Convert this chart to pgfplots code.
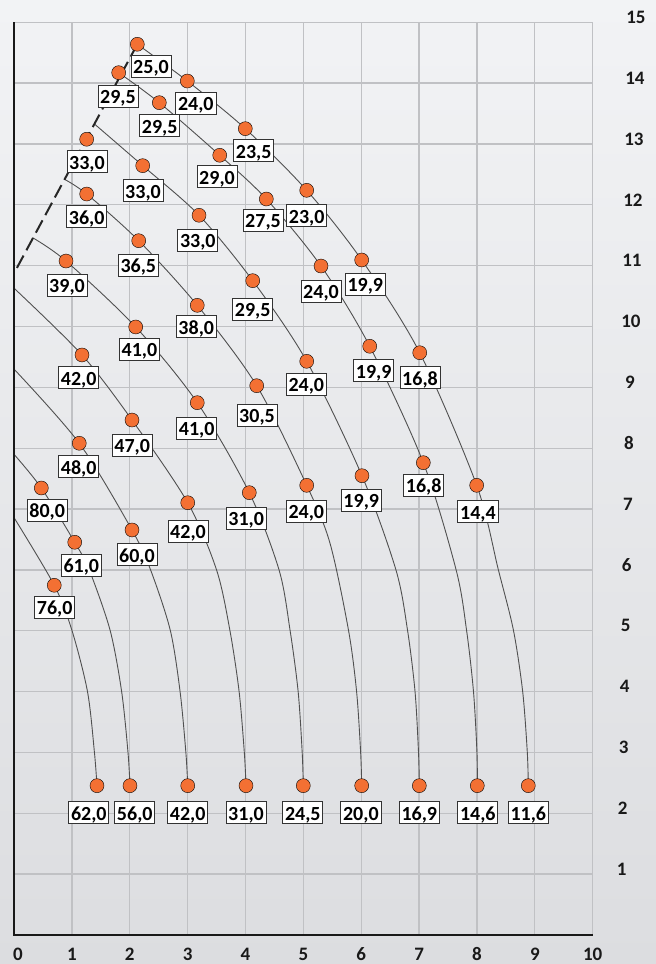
\documentclass[border=0pt]{standalone}
\usepackage{pgfplots}
\pgfplotsset{compat=1.18}
\usepackage{pgfplotstable}
\usepackage{fontspec}
\setmainfont{Carlito}
\definecolor{bgtop}{RGB}{242,243,245}
\definecolor{bgbot}{RGB}{220,221,224}
\definecolor{gridc}{RGB}{192,193,196}
\definecolor{dotc}{RGB}{243,112,51}
\definecolor{curvec}{RGB}{80,80,80}

\pgfplotstableread{
x y lab dx dy
2.131 14.638 25,0 13.7 -21.7
2.995 14.034 24,0 8.5 -22
3.997 13.251 23,5 8.4 -22
5.058 12.238 23,0 0 -25.5
6.008 11.093 19,9 3.6 -24.2
7.011 9.569 16,8 0.3 -24.8
7.995 7.390 14,4 1.3 -26.4
8.887 2.454 11,6 0 -27.1
1.809 14.171 29,5 -0.7 -23.3
2.511 13.678 29,5 0.4 -23
3.555 12.814 29,0 -2.7 -21.3
4.360 12.095 27,5 -3.3 -21.2
5.305 10.994 24,0 0 -25
6.147 9.675 19,9 4 -24.5
7.073 7.762 16,8 0.4 -22.8
8.006 2.454 14,6 0.5 -27.1
1.256 13.077 33,0 0.3 -22.3
2.224 12.643 33,0 0.3 -25
3.197 11.828 33,0 -1.2 -25.2
4.125 10.753 29,5 0 -28.5
5.058 9.428 24,0 -0.4 -22.9
6.013 7.548 19,9 -0.7 -24.3
7.004 2.454 16,9 0 -27.1
1.256 12.177 36,0 0 -22.8
2.155 11.410 36,5 -0.4 -24.3
3.167 10.348 38,0 -1 -21.4
4.194 9.027 30,5 0.3 -29.3
5.058 7.390 24,0 -0.4 -26
6.008 2.454 20,0 -0.8 -27.1
0.899 11.076 39,0 1 -24
2.103 9.992 41,0 3.8 -22.5
3.167 8.748 41,0 -0.6 -25.3
4.066 7.269 31,0 -3.1 -25.3
4.999 2.454 24,5 -0.5 -27.1
1.175 9.532 42,0 -3.3 -22.7
2.039 8.463 47,0 0.2 -25.3
3.002 7.104 42,0 0.3 -28.6
4.009 2.454 31,0 0 -27.1
1.128 8.081 48,0 -0.6 -23.4
2.039 6.656 60,0 5 -24.7
3.002 2.454 42,0 0 -27.1
0.472 7.346 80,0 5.9 -22.3
1.049 6.454 61,0 6.6 -23
2.004 2.454 56,0 4.8 -27.1
0.696 5.747 76,0 0.4 -21.9
1.434 2.454 62,0 -8.2 -27.1
}\dottable

\begin{document}
\begin{tikzpicture}
\useasboundingbox (0,0) rectangle (656pt,964pt);
\shade[top color=bgtop, bottom color=bgbot] (0,0) rectangle (656pt,964pt);
\begin{axis}[
  at={(14pt,29pt)}, anchor=south west,
  scale only axis, width=578.7pt, height=912.75pt,
  xmin=0, xmax=10, ymin=0, ymax=15,
  xtick={0,...,10}, ytick={1,...,15},
  grid=major, major grid style={draw=gridc, line width=1.3pt},
  axis line style={draw=none},
  major tick length=0pt,
  tick style={draw=none},
  clip=false,
  yticklabel pos=right,
  /pgf/number format/assume math mode=true,
  ticklabel style={font=\bfseries\fontsize{19}{19}\selectfont, text=black!90, inner sep=0pt, text height=12.5pt, text depth=0pt},
  xticklabel style={anchor=center, yshift=-19pt, xshift={4pt*(\ticknum==0)}},
  yticklabel style={anchor=center, yshift=5pt, xshift={29pt+1.02pt*\ticknum}},
]
% curves
\addplot[smooth, no marks, draw=curvec, line width=0.9pt] coordinates {(2.131,14.638) (2.995,14.034) (3.997,13.251) (5.058,12.238) (6.008,11.093) (7.011,9.569) (7.995,7.390) (8.37,6.0) (8.63,5.01) (8.79,4.0) (8.87,3.0) (8.887,2.454)};
\addplot[smooth, no marks, draw=curvec, line width=0.9pt] coordinates {(1.809,14.171) (2.511,13.678) (3.555,12.814) (4.360,12.095) (5.305,10.994) (6.147,9.675) (7.073,7.762) (7.64,6.0) (7.82,5.01) (7.94,4.0) (8.0,3.0) (8.006,2.454)};
\addplot[smooth, no marks, draw=curvec, line width=0.9pt] coordinates {(1.40,13.32) (2.224,12.643) (3.197,11.828) (4.125,10.753) (5.058,9.428) (6.013,7.548) (6.60,6.0) (6.80,5.01) (6.93,4.0) (6.99,3.0) (7.004,2.454)};
\addplot[smooth, no marks, draw=curvec, line width=0.9pt] coordinates {(0.87,12.42) (1.256,12.177) (2.155,11.410) (3.167,10.348) (4.194,9.027) (5.058,7.390) (5.46,6.44) (5.78,5.01) (5.92,4.0) (5.99,3.0) (6.008,2.454)};
\addplot[smooth, no marks, draw=curvec, line width=0.9pt] coordinates {(0.32,11.46) (0.899,11.076) (2.103,9.992) (3.167,8.748) (4.066,7.269) (4.58,6.0) (4.77,5.01) (4.91,4.0) (4.98,3.0) (4.999,2.454)};
\addplot[smooth, no marks, draw=curvec, line width=0.9pt] coordinates {(0,10.63) (1.175,9.532) (2.039,8.463) (3.002,7.104) (3.50,6.0) (3.73,5.01) (3.89,4.0) (3.98,3.0) (4.009,2.454)};
\addplot[smooth, no marks, draw=curvec, line width=0.9pt] coordinates {(0,9.30) (1.128,8.081) (2.039,6.656) (2.36,6.0) (2.70,5.01) (2.87,4.0) (2.97,3.0) (3.002,2.454)};
\addplot[smooth, no marks, draw=curvec, line width=0.9pt] coordinates {(0,7.90) (0.472,7.346) (1.049,6.454) (1.30,6.0) (1.66,5.01) (1.86,4.0) (1.97,3.0) (2.004,2.454)};
\addplot[smooth, no marks, draw=curvec, line width=0.9pt] coordinates {(0,6.86) (0.696,5.747) (1.0,5.01) (1.27,4.0) (1.39,3.0) (1.434,2.454)};
% dashed limit line
\addplot[no marks, draw=black!85, line width=2pt, dash pattern=on 14pt off 6pt] coordinates {(2.131,14.638) (0,10.874)};
% axes
\draw[black!90, line width=2.5pt] (axis cs:0,15) -- (axis cs:0,0) -- (axis cs:10,0);
% dots and labels
\addplot[only marks, mark=*, mark size=7pt, mark options={fill=dotc, draw=none},
  point meta=explicit symbolic,
  visualization depends on={\thisrow{dx}\as\dx},
  visualization depends on={\thisrow{dy}\as\dy},
  nodes near coords,
  nodes near coords style={font=\bfseries\fontsize{20}{20}\selectfont, text=black, fill=white, draw=black!80, line width=0.8pt, inner xsep=2.3pt, inner ysep=3pt, text height=15.5pt, text depth=0.5pt, anchor=center, xshift=\dx pt, yshift=\dy pt}
] table[x=x, y=y, meta=lab] {\dottable};
\end{axis}
\end{tikzpicture}
\end{document}
